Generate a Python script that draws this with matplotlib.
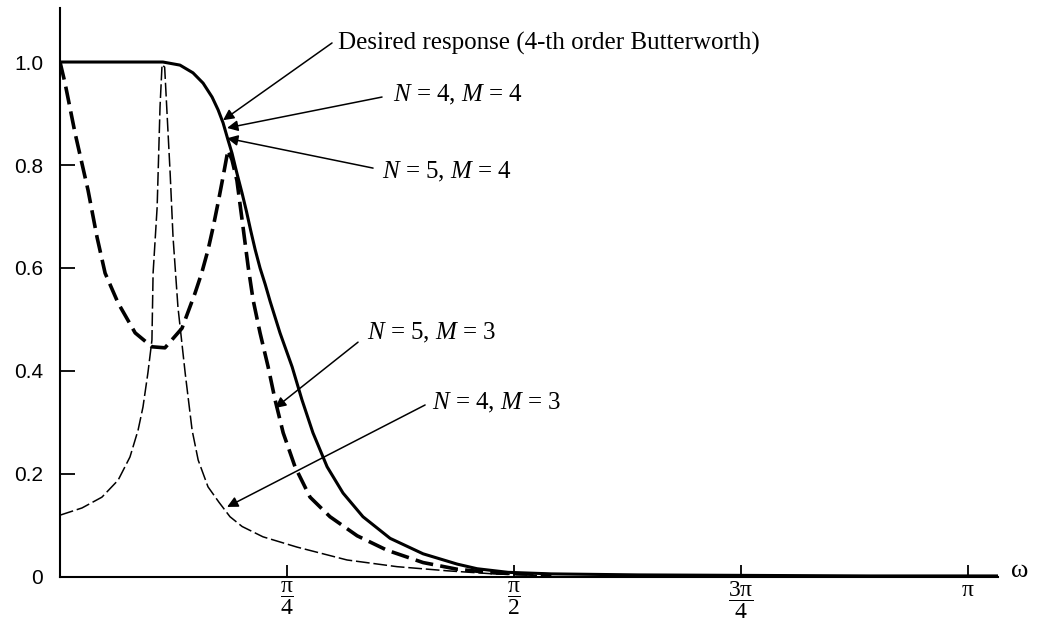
import numpy as np
import matplotlib.pyplot as plt

plt.rcParams['font.family'] = 'Liberation Serif'
plt.rcParams['mathtext.fontset'] = 'custom'
plt.rcParams['mathtext.rm'] = 'Liberation Serif'
plt.rcParams['mathtext.it'] = 'Liberation Serif:italic'

# Desired response (4-th order Butterworth); N=4,M=4 and N=5,M=4 lie on it
w_des = [0, 0.1, 0.2, 0.3, 0.356, 0.415, 0.46, 0.495, 0.526, 0.547, 0.564, 0.581,
         0.595, 0.612, 0.630, 0.645, 0.66, 0.675, 0.692, 0.71, 0.727, 0.761, 0.803,
         0.837, 0.875, 0.924, 0.979, 1.048, 1.142, 1.256, 1.374, 1.443, 1.55, 1.7,
         2.0, 2.4, 2.8, 3.245]
h_des = [1.0, 1.0, 1.0, 1.0, 1.0, 0.994, 0.979, 0.959, 0.932, 0.907, 0.882, 0.849,
         0.823, 0.784, 0.745, 0.71, 0.672, 0.636, 0.600, 0.568, 0.535, 0.474, 0.408,
         0.344, 0.280, 0.214, 0.163, 0.117, 0.075, 0.045, 0.025, 0.016, 0.009, 0.006,
         0.004, 0.003, 0.002, 0.002]

# N = 5, M = 3
w_53 = [0, 0.017, 0.052, 0.097, 0.128, 0.156, 0.201, 0.26, 0.318, 0.363, 0.422,
        0.467, 0.49, 0.512, 0.53, 0.548, 0.565, 0.581, 0.595, 0.612, 0.633, 0.651,
        0.668, 0.692, 0.72, 0.744, 0.772, 0.813, 0.865, 0.934, 1.028, 1.131, 1.256,
        1.374, 1.5, 1.7]
h_53 = [1.0, 0.96, 0.862, 0.751, 0.66, 0.59, 0.532, 0.474, 0.447, 0.445, 0.483,
        0.551, 0.59, 0.635, 0.68, 0.73, 0.78, 0.829, 0.81, 0.77, 0.68, 0.602, 0.538,
        0.474, 0.408, 0.344, 0.28, 0.214, 0.155, 0.117, 0.08, 0.052, 0.028, 0.015,
        0.008, 0.004]

# N = 4, M = 3
w_43 = [0, 0.076, 0.145, 0.201, 0.242, 0.27, 0.287, 0.304, 0.318, 0.322, 0.329,
        0.336, 0.346, 0.353, 0.362, 0.381, 0.391, 0.408, 0.433, 0.457, 0.478, 0.512,
        0.55, 0.588, 0.63, 0.702, 0.82, 0.993, 1.166, 1.339, 1.5, 1.65]
h_43 = [0.12, 0.134, 0.155, 0.188, 0.233, 0.285, 0.33, 0.396, 0.46, 0.59, 0.654,
        0.718, 0.913, 0.995, 0.99, 0.784, 0.66, 0.524, 0.396, 0.285, 0.227, 0.175,
        0.145, 0.117, 0.098, 0.078, 0.058, 0.033, 0.02, 0.012, 0.006, 0.003]

y_ticks = [0, 0.2, 0.4, 0.6, 0.8, 1.0]
y_labels = ['0', '0.2', '0.4', '0.6', '0.8', '1.0']
x_ticks = np.pi * np.array([0.25, 0.5, 0.75, 1.0])
x_labels = [r'$\dfrac{\mathrm{\pi}}{4}$', r'$\dfrac{\mathrm{\pi}}{2}$',
            r'$\dfrac{3\mathrm{\pi}}{4}$', r'$\mathrm{\pi}$']

# (label, text position, arrow tail, arrow tip)
notes = [
    ('Desired response (4-th order Butterworth)', (0.962, 1.037), (0.941, 1.037), (0.564, 0.887)),
    (r'$N$ = 4, $M$ = 4', (1.152, 0.936), (1.114, 0.932), (0.578, 0.872)),
    (r'$N$ = 5, $M$ = 4', (1.114, 0.786), (1.083, 0.794), (0.578, 0.852)),
    (r'$N$ = 5, $M$ = 3', (1.062, 0.474), (1.031, 0.456), (0.744, 0.328)),
    (r'$N$ = 4, $M$ = 3', (1.287, 0.338), (1.263, 0.334), (0.578, 0.136)),
]

fig = plt.figure(figsize=(10.51, 6.21), dpi=100)
ax = fig.add_axes([0.0571, 0.0709, 0.8925, 0.9163])

ax.plot(w_des, h_des, color='black', lw=2.2, solid_capstyle='round',
        solid_joinstyle='round')
ax.plot(w_53, h_53, color='black', lw=2.6, linestyle=(0, (5, 2)),
        dash_joinstyle='round')
ax.plot(w_43, h_43, color='black', lw=1.1, linestyle=(0, (9, 2.5)))

for label, tpos, tail, tip in notes:
    ax.annotate('', xy=tip, xytext=tail,
                arrowprops=dict(arrowstyle='-|>', color='black', lw=1.1,
                                mutation_scale=16, shrinkA=0, shrinkB=0))
    ax.text(tpos[0], tpos[1], label, fontsize=18, ha='left', va='center')

ax.set_xlim(0, 3.245)
ax.set_ylim(0, 1.105)
ax.spines['top'].set_visible(False)
ax.spines['right'].set_visible(False)
ax.spines['left'].set_linewidth(1.5)
ax.spines['bottom'].set_linewidth(1.5)

ax.set_yticks(y_ticks)
ax.set_yticklabels(y_labels, fontfamily='Liberation Sans', fontsize=15)
ax.set_xticks(x_ticks)
ax.set_xticklabels(x_labels, fontsize=17)
ax.tick_params(axis='y', direction='in', length=11, width=1.3, pad=12)
ax.tick_params(axis='x', direction='in', length=9, width=1.3, pad=2)

ax.text(3.29, 0.012, 'ω', fontsize=19, ha='left', va='center', clip_on=False)

fig.savefig('out.png', dpi=100, facecolor='white')
